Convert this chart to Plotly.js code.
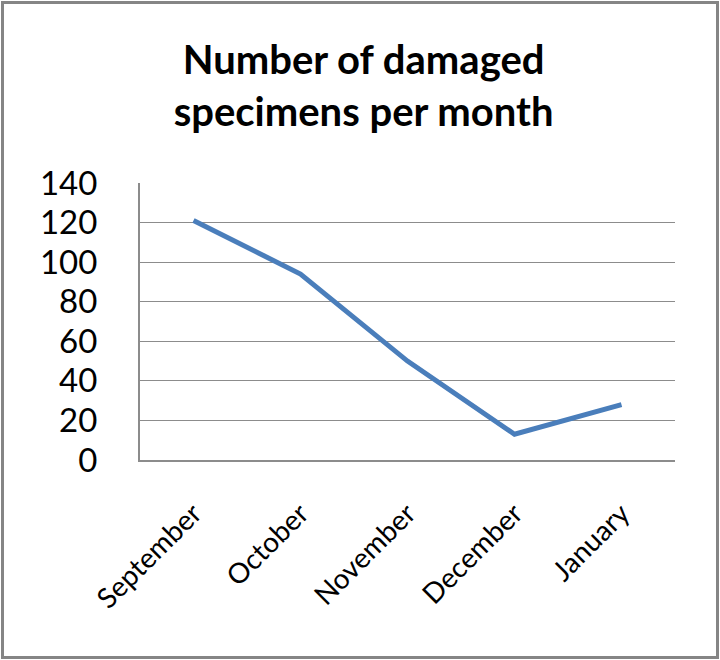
<!DOCTYPE html>
<html>
<head>
<meta charset="utf-8">
<script src="https://cdn.plot.ly/plotly-3.0.1.min.js"></script>
<style>
  html, body { margin: 0; padding: 0; background: #fff; }
  #wrap { position: relative; width: 720px; height: 660px; }
  #chart { width: 720px; height: 660px; }
  #frame { position: absolute; left: 1px; top: 1px; width: 712px; height: 652px; border: 3px solid #858585; pointer-events: none; }
</style>
</head>
<body>
<div id="wrap">
  <div id="chart"></div>
  <div id="frame"></div>
</div>
<script>
const months = ["September", "October", "November", "December", "January"];
const damaged = [121, 94, 50, 13, 28];
const yTicks = [0, 20, 40, 60, 80, 100, 120, 140];
const chartTitle = "Number of damaged<br>specimens per month";

const trace = {
  x: months,
  y: damaged,
  type: "scatter",
  mode: "lines",
  line: { color: "#4a7ebb", width: 5 },
  hoverinfo: "skip"
};

const layout = {
  width: 720,
  height: 660,
  paper_bgcolor: "#ffffff",
  plot_bgcolor: "#ffffff",
  margin: { l: 140, r: 45, t: 183, b: 200 },
  showlegend: false,
  font: { family: "Lato, 'Open Sans', sans-serif", color: "#000" },
  title: {
    text: chartTitle,
    font: { family: "Lato, 'Open Sans', sans-serif", size: 40, color: "#000", weight: "bold" },
    x: 0.505,
    xanchor: "center",
    y: 0.888,
    yanchor: "top"
  },
  xaxis: {
    type: "category",
    range: [-0.5, 4.5],
    tickangle: -45,
    tickfont: { size: 28, color: "#000" },
    showgrid: false,
    showline: true,
    linecolor: "#8c8c8c",
    linewidth: 2,
    ticks: "",
    ticklabelstandoff: 24,
    zeroline: false,
    fixedrange: true
  },
  yaxis: {
    range: [0, 140],
    tickvals: yTicks,
    ticktext: yTicks.map(String),
    tickfont: { size: 33, color: "#000" },
    showgrid: true,
    gridcolor: "#8c8c8c",
    gridwidth: 1,
    showline: true,
    linecolor: "#8c8c8c",
    linewidth: 2,
    ticks: "",
    ticklabelstandoff: 34,
    zeroline: false,
    fixedrange: true
  }
};

Plotly.newPlot("chart", [trace], layout, { displayModeBar: false, staticPlot: true });
</script>
</body>
</html>
